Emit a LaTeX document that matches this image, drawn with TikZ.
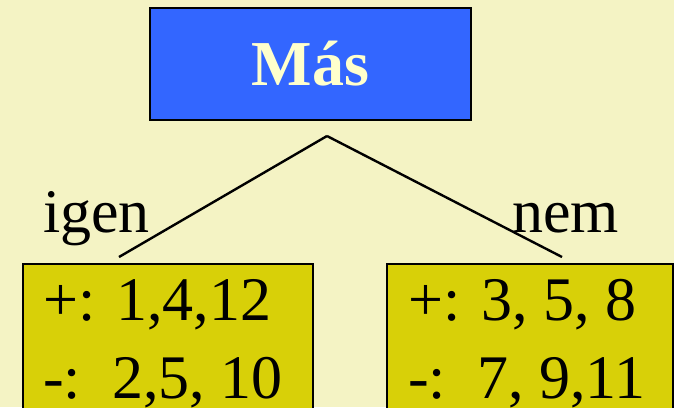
\documentclass[tikz,border=0pt]{standalone}
\usepackage{fontspec}
\setmainfont{Liberation Serif}
\definecolor{bg}{RGB}{244,243,196}
\definecolor{rootblue}{RGB}{51,102,255}
\definecolor{leafolive}{RGB}{216,208,8}
\definecolor{cream}{RGB}{255,255,204}
\begin{document}
\begin{tikzpicture}[x=1pt,y=-1pt,
  rootbox/.style={draw=black, line width=2.5pt, fill=rootblue, text=cream,
    font=\bfseries\fontsize{64}{64}\selectfont,
    minimum width=321pt, minimum height=112pt, inner sep=0pt},
  leafbox/.style={draw=black, line width=2pt, fill=leafolive,
    minimum height=200pt, inner sep=0pt, anchor=north west},
  leaftext/.style={font=\fontsize{62}{62}\selectfont, anchor=base west, inner sep=0pt},
  branch/.style={line width=2.4pt},
  branchlabel/.style={font=\fontsize{62}{62}\selectfont, anchor=base west, inner sep=0pt}]
\useasboundingbox (0,0) rectangle (674,407);
\clip (0,0) rectangle (674,407);
\fill[bg] (0,0) rectangle (674,407);

% decision node
\node[rootbox] (root) at (310.5,64) {Más};

% leaves
\node[leafbox, minimum width=290pt] (yesleaf) at (22,263) {};
\node[leafbox, minimum width=286pt] (noleaf) at (386,263) {};

\node[leaftext] (yesplus)  at (43,320)  {+: 1,4,12};
\node[leaftext] (yesminus) at (43,398)  {-:\ \ 2,5, 10};
\node[leaftext] (noplus)   at (408,320) {+: 3, 5, 8};
\node[leaftext] (nominus)  at (408,398) {-:\ \ 7, 9,11};

% branches
\coordinate (split) at (327,136);
\coordinate (yesend) at (119,257);
\coordinate (noend) at (562,257);
\draw[branch] (split) -- (yesend);
\draw[branch] (split) -- (noend);

\node[branchlabel] (yeslabel) at (43,232) {igen};
\node[branchlabel] (nolabel) at (512,232) {nem};
\end{tikzpicture}
\end{document}
